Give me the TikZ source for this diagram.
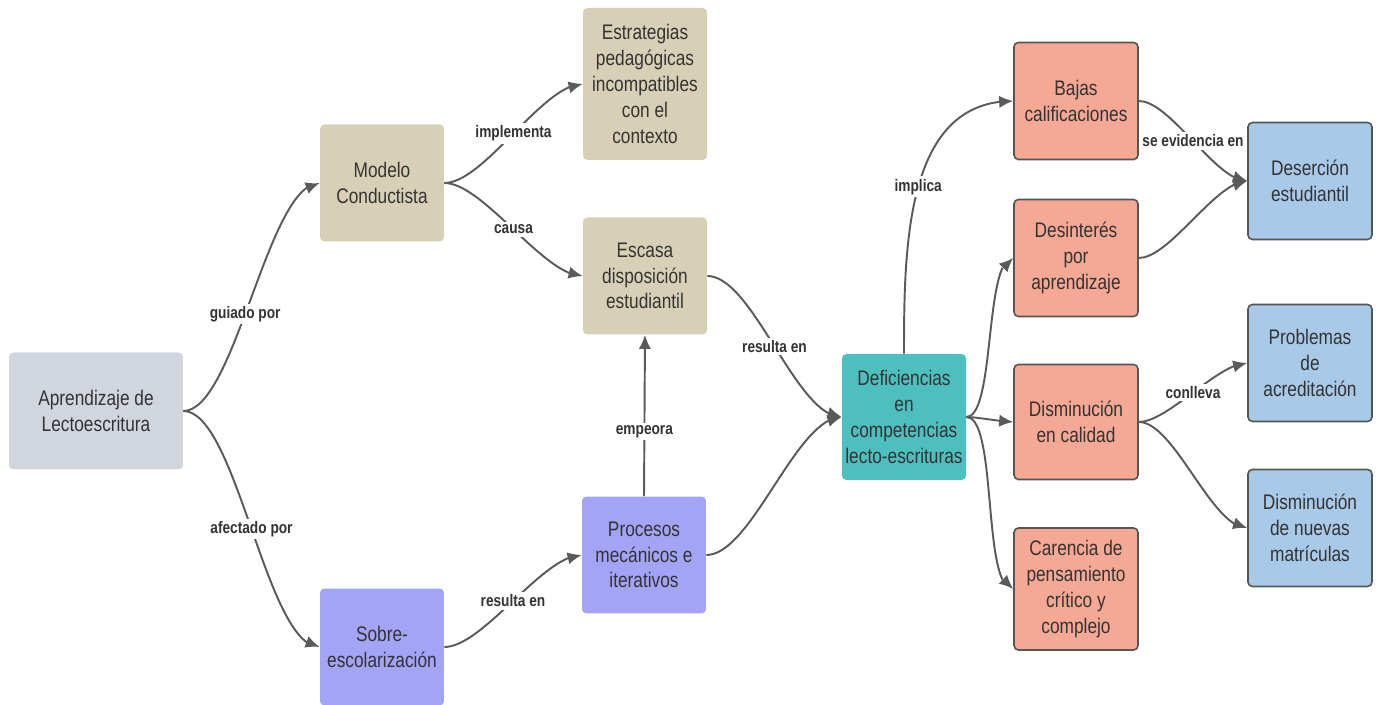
\documentclass[tikz,border=0pt]{standalone}
\usepackage{fontspec}
\setmainfont{Liberation Sans}[FakeStretch=0.82]
\usetikzlibrary{arrows.meta,bending}

\definecolor{grisbox}{HTML}{D1D5DE}
\definecolor{beigebox}{HTML}{D8D0B6}
\definecolor{lilabox}{HTML}{A4A4F6}
\definecolor{turqbox}{HTML}{4EBFBF}
\definecolor{salmonbox}{HTML}{F5A894}
\definecolor{azulbox}{HTML}{A8C9E8}
\definecolor{borde}{HTML}{555555}
\definecolor{linea}{HTML}{5A5A5A}
\definecolor{textgris}{HTML}{333333}

\tikzset{
  caja/.style={rounded corners=2.5pt, minimum width=2.48cm, minimum height=2.34cm,
    inner sep=0pt, align=center, text=textgris, font=\fontsize{12}{14.7}\selectfont},
  cajagris/.style={caja, fill=grisbox, minimum width=3.48cm},
  cajabeige/.style={caja, fill=beigebox},
  cajalila/.style={caja, fill=lilabox},
  cajaturq/.style={caja, fill=turqbox, minimum height=2.52cm},
  cajasalmon/.style={caja, fill=salmonbox, draw=borde, line width=0.9pt},
  cajaazul/.style={caja, fill=azulbox, draw=borde, line width=0.9pt},
  flecha/.style={draw=linea, line width=1.1pt, -{Latex[length=8pt,width=7pt,flex]}},
  etiq/.style={fill=white, inner sep=1.5pt, text=textgris,
    font=\bfseries\fontsize{9.5}{11}\selectfont},
}

\begin{document}
\begin{tikzpicture}[x=0.02cm,y=0.02cm]
\useasboundingbox (0,0) rectangle (1379,705);

% columna izquierda
\node [cajagris] (aprend) at (96,294) {Aprendizaje de\\Lectoescritura};
\node [cajabeige] (modelo) at (382,522) {Modelo\\Conductista};
\node [cajalila] (sobre) at (382,58) {Sobre-\\escolarización};

% columna central
\node [cajabeige, minimum height=3.04cm] (estrat) at (645,621) {Estrategias\\pedagógicas\\incompatibles\\con el\\contexto};
\node [cajabeige] (escasa) at (645,429) {Escasa\\disposición\\estudiantil};
\node [cajalila] (procesos) at (644,150) {Procesos\\mecánicos e\\iterativos};
\node [cajaturq] (defic) at (904,288) {Deficiencias\\en\\competencias\\lecto-escrituras};

% consecuencias
\node [cajasalmon] (bajas) at (1076,604) {Bajas\\calificaciones};
\node [cajasalmon] (desint) at (1076,447) {Desinterés\\por\\aprendizaje};
\node [cajasalmon, minimum height=2.30cm] (dismcal) at (1076,283) {Disminución\\en calidad};
\node [cajasalmon, minimum height=2.44cm] (carencia) at (1076,116) {Carencia de\\pensamiento\\crítico y\\complejo};

\node [cajaazul] (desercion) at (1310,524) {Deserción\\estudiantil};
\node [cajaazul] (problemas) at (1310,342) {Problemas\\de\\acreditación};
\node [cajaazul] (dismnuev) at (1310,177) {Disminución\\de nuevas\\matrículas};

% conexiones
\draw [flecha] (aprend.east) to[out=0,in=180,looseness=0.5] node[etiq,pos=0.45] {guiado por} (modelo.west);
\draw [flecha] (aprend.east) to[out=0,in=180,looseness=0.5] node[etiq] {afectado por} (sobre.west);
\draw [flecha] (modelo.east) to[out=0,in=180,looseness=0.6] node[etiq] {implementa} (estrat.west);
\draw [flecha] (modelo.east) to[out=0,in=180,looseness=0.6] node[etiq] {causa} (escasa.west);
\draw [flecha] (sobre.east) to[out=0,in=180,looseness=0.6] node[etiq] {resulta en} (procesos.west);
\draw [flecha] (procesos.north) -- node[etiq,pos=0.4] {empeora} (escasa.south);
\draw [flecha] (escasa.east) to[out=0,in=180,looseness=0.6] node[etiq] {resulta en} (defic.west);
\draw [flecha] (procesos.east) to[out=0,in=180,looseness=0.6] (defic.west);

\draw [flecha] (defic.north) to[out=90,in=180] node[etiq] {implica} (bajas.west);
\draw [flecha] (defic.east) to[out=0,in=180,looseness=0.45] (desint.west);
\draw [flecha] (defic.east) to[out=0,in=180,looseness=0.6] (dismcal.west);
\draw [flecha] (defic.east) to[out=0,in=180,looseness=0.45] (carencia.west);

\draw [flecha] (bajas.east) to[out=0,in=180,looseness=0.6] node[etiq] {se evidencia en} (desercion.west);
\draw [flecha] (desint.east) to[out=0,in=180,looseness=0.6] (desercion.west);
\draw [flecha] (dismcal.east) to[out=0,in=180,looseness=0.6] node[etiq] {conlleva} (problemas.west);
\draw [flecha] (dismcal.east) to[out=0,in=180,looseness=0.6] (dismnuev.west);
\end{tikzpicture}
\end{document}
